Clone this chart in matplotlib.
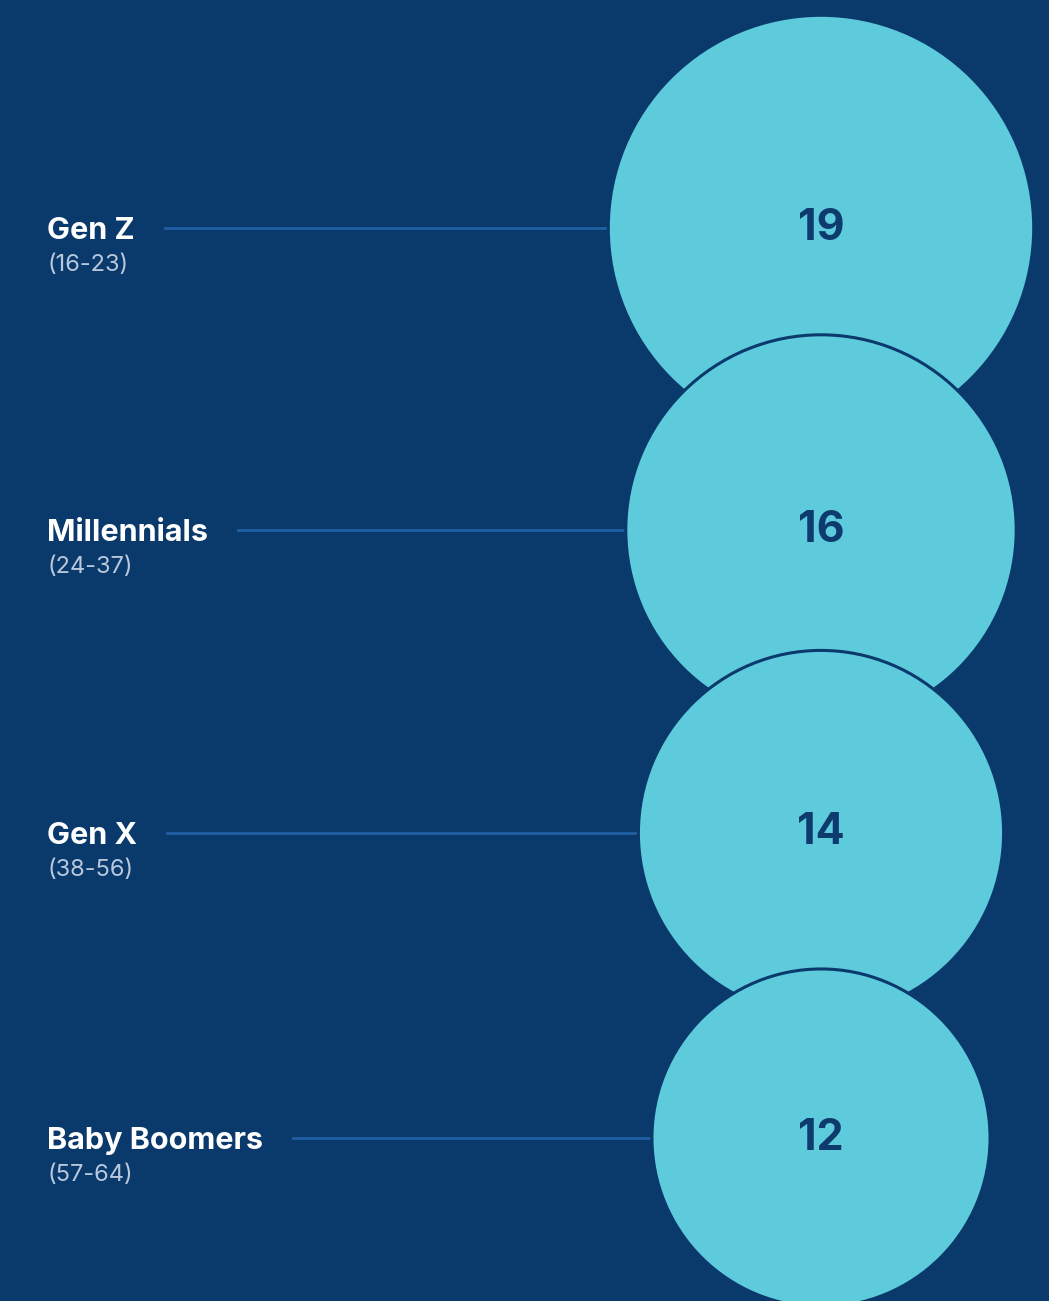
import numpy as np
import matplotlib.pyplot as plt
from matplotlib.patches import Circle

generations = ["Gen Z", "Millennials", "Gen X", "Baby Boomers"]
age_ranges = ["(16-23)", "(24-37)", "(38-56)", "(57-64)"]
values = [19, 16, 14, 12]

bg = "#0a396c"
bubble = "#5ecbdc"
line_col = "#2160a2"

W, H = 1049, 1301
fig = plt.figure(figsize=(W / 100, H / 100), dpi=100, facecolor=bg)
ax = fig.add_axes([0, 0, 1, 1])
ax.set_xlim(0, W)
ax.set_ylim(H, 0)
ax.set_aspect("equal")
ax.axis("off")
ax.set_facecolor(bg)

# bubble area proportional to value
scale = 48.8
cx = 821
rows_y = [228, 530, 833, 1138]
plt.rcParams["font.family"] = ["Inter", "DejaVu Sans"]

fig.canvas.draw()
renderer = fig.canvas.get_renderer()

for i, (name, ages, v) in enumerate(zip(generations, age_ranges, values)):
    y = rows_y[i]
    r = scale * np.sqrt(v)
    t = ax.text(47, y + 3, name, color="white", fontsize=22, fontweight="bold",
                va="center", ha="left")
    ax.text(47, y + 37, ages, color="#b9c9dd", fontsize=17,
            va="center", ha="left")
    bb = t.get_window_extent(renderer)
    x_end = bb.x1 + 30
    ax.plot([x_end, cx], [y, y], color=line_col, lw=2, zorder=1)
    ax.add_patch(Circle((cx, y), r, facecolor=bubble, edgecolor=bg,
                        lw=2.2, zorder=2 + i))
    ax.text(cx, y, str(v), color="#0d3b6e", fontsize=31, fontweight="bold",
            ha="center", va="center", zorder=10)

fig.savefig("out.png", dpi=100, facecolor=bg)
